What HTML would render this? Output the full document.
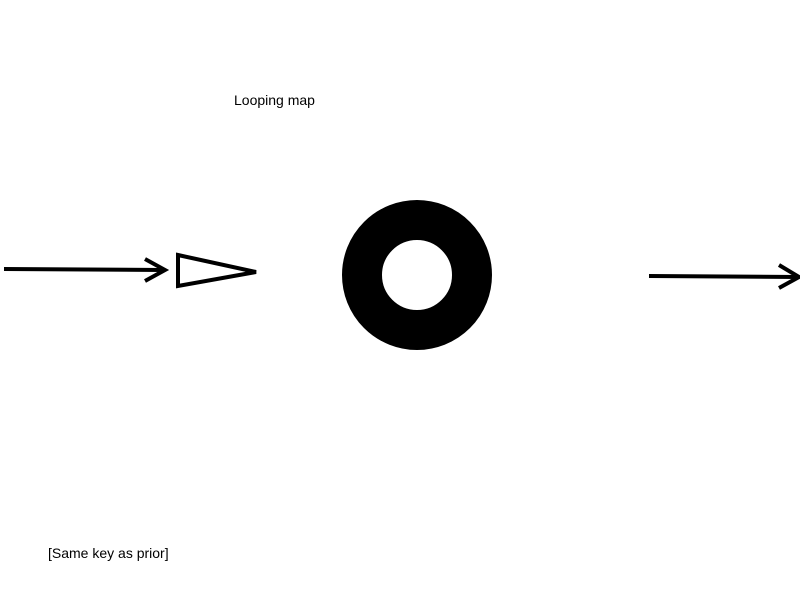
<!DOCTYPE html>
<html><head><meta charset="utf-8"><style>
html,body{margin:0;padding:0;background:#fff;}
svg{display:block;}
text{font-family:"Liberation Sans",sans-serif;font-size:14px;fill:#000;}
</style></head><body>
<svg width="800" height="600" viewBox="0 0 800 600">
<text x="234" y="105">Looping map</text>
<g stroke="#000" stroke-width="4" fill="none">
<line x1="4" y1="269" x2="164" y2="270"/>
<polyline points="145,259 165,270 145,281"/>
</g>
<polygon points="178,255 256,272 178,286" fill="#fff" stroke="#000" stroke-width="4"/>
<circle cx="417" cy="275" r="55" fill="none" stroke="#000" stroke-width="40"/>
<g stroke="#000" stroke-width="4" fill="none">
<line x1="649" y1="276" x2="798" y2="277"/>
<polyline points="779,265 799,277 779,288"/>
</g>
<text x="48" y="558">[Same key as prior]</text>
</svg>
</body></html>
